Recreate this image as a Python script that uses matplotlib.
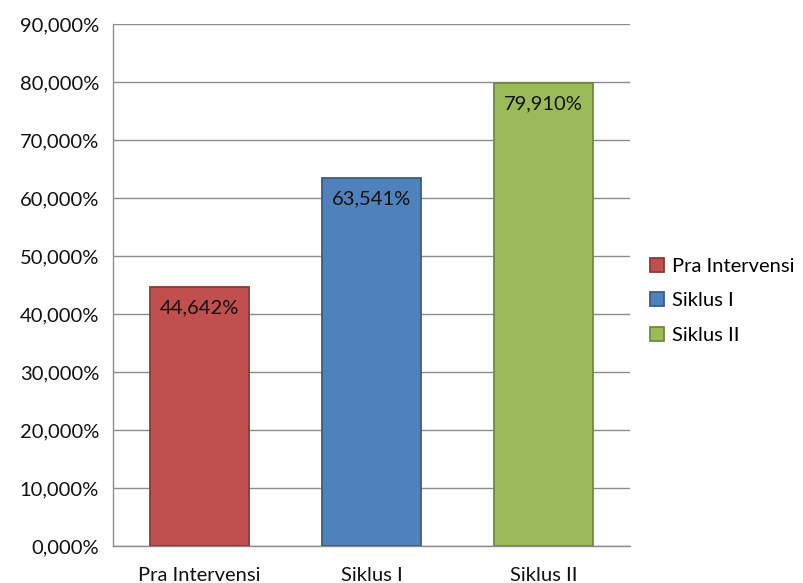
import matplotlib.pyplot as plt
from matplotlib.ticker import FuncFormatter

categories = ["Pra Intervensi", "Siklus I", "Siklus II"]
values = [44.642, 63.541, 79.910]
colors = ["#C0504D", "#4F81BD", "#9BBB59"]
edges = ["#8C3836", "#385D8A", "#71893F"]

plt.rcParams["font.family"] = ["Lato", "DejaVu Sans"]

fig = plt.figure(figsize=(8.04, 5.83), dpi=100)
ax = fig.add_axes([0.1405, 0.0635, 0.643, 0.8945])

bars = ax.bar(range(len(values)), values, width=0.575, color=colors,
              edgecolor=edges, linewidth=1.3, label=categories, zorder=3)

# value labels inside the top of each bar
for i, v in enumerate(values):
    ax.annotate(f"{v:.3f}".replace(".", ",") + "%", (i, v),
                xytext=(0, -9), textcoords="offset points",
                ha="center", va="top", fontsize=14.5, color="#111111",
                zorder=4)

ax.set_xlim(-0.5, 2.5)
ax.set_ylim(0, 90)
ax.set_yticks(range(0, 91, 10))
ax.yaxis.set_major_formatter(
    FuncFormatter(lambda v, p: f"{v:.3f}".replace(".", ",") + "%"))
ax.set_xticks(range(len(categories)))
ax.set_xticklabels(categories)
ax.tick_params(axis="both", labelsize=14.5, length=0, colors="#111111")
ax.tick_params(axis="x", pad=15)
ax.tick_params(axis="y", pad=10)

ax.grid(axis="y", color="#8c8c8c", linewidth=1, zorder=0)
for s in ["top", "right"]:
    ax.spines[s].set_visible(False)
for s in ["left", "bottom"]:
    ax.spines[s].set_color("#8c8c8c")
    ax.spines[s].set_linewidth(1)

ax.legend(loc="center left", bbox_to_anchor=(1.024, 0.47), frameon=False,
          fontsize=14.5, handlelength=0.7, handleheight=0.7,
          handletextpad=0.35, labelspacing=0.85, borderaxespad=0)

fig.savefig("out.png", dpi=100)
